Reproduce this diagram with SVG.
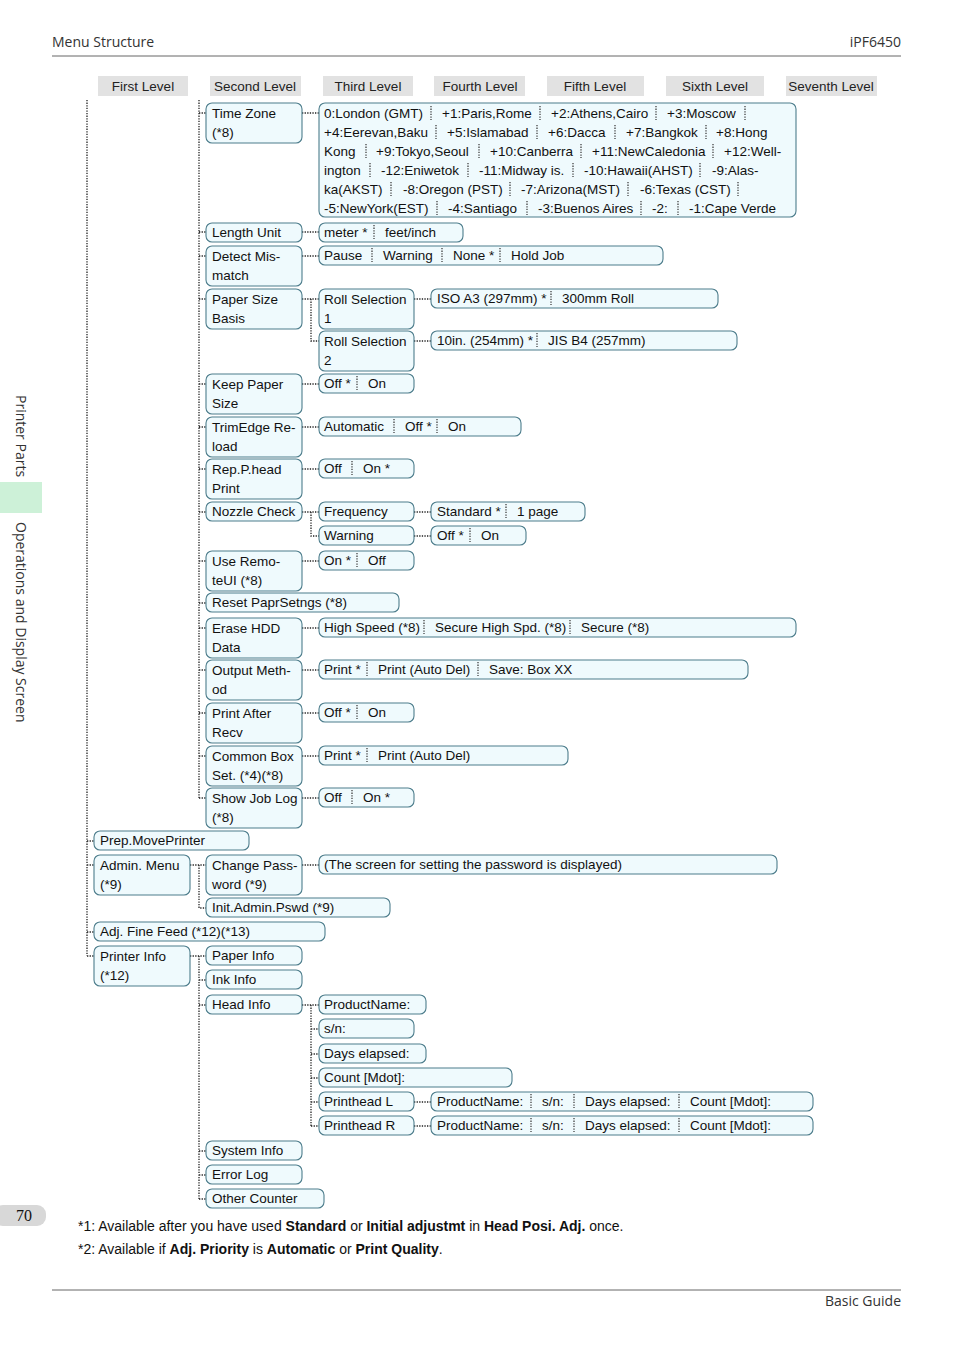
<svg xmlns="http://www.w3.org/2000/svg" width="954" height="1348" viewBox="0 0 954 1348">
<style>
text{font-family:"Liberation Sans",Arial,sans-serif;font-size:13.5px;fill:#111}
.b{fill:#effafd;stroke:#4d7d8c;stroke-width:1.1}
.h{fill:#e2e2e2}
.ht{font-size:13.5px;fill:#222;text-anchor:middle}
.c{stroke:#222;stroke-width:1.3;stroke-dasharray:1.3 1.3;fill:none}
.s{stroke:#333;stroke-width:1.2;stroke-dasharray:1.3 1.3}
.pg{font-family:"Open Sans",sans-serif;font-size:14px;fill:#333}
.fn{font-size:14px}
.bo{font-weight:bold}
</style>
<rect width="954" height="1348" fill="#fff"/>
<text class="pg" x="52" y="47">Menu Structure</text>
<text class="pg" x="901" y="47" text-anchor="end" font-size="15">iPF6450</text>
<line x1="52" y1="56" x2="901" y2="56" stroke="#666" stroke-width="1"/>
<line x1="52" y1="1290" x2="901" y2="1290" stroke="#666" stroke-width="1"/>
<text class="pg" x="901" y="1306" text-anchor="end">Basic Guide</text>
<rect x="-6" y="1205" width="52" height="21" rx="9" fill="#d8d8d8"/>
<text x="24" y="1221" text-anchor="middle" font-family="Liberation Serif" font-size="16" style="font-family:'Liberation Serif',serif;font-size:16px">70</text>
<rect x="0" y="482" width="42" height="31" fill="#cdf1d8"/>
<text class="pg" transform="translate(16,395) rotate(90)">Printer Parts</text>
<text class="pg" transform="translate(16,522) rotate(90)">Operations and Display Screen</text>

<g id="headers">
<rect class="h" x="98" y="76" width="90" height="20"/><text class="ht" x="143" y="91">First Level</text>
<rect class="h" x="210" y="76" width="91" height="20"/><text class="ht" x="255" y="91">Second Level</text>
<rect class="h" x="323" y="76" width="90" height="20"/><text class="ht" x="368" y="91">Third Level</text>
<rect class="h" x="434" y="76" width="91" height="20"/><text class="ht" x="480" y="91">Fourth Level</text>
<rect class="h" x="547" y="76" width="97" height="20"/><text class="ht" x="595" y="91">Fifth Level</text>
<rect class="h" x="666" y="76" width="98" height="20"/><text class="ht" x="715" y="91">Sixth Level</text>
<rect class="h" x="786" y="76" width="91" height="20"/><text class="ht" x="831" y="91">Seventh Level</text>
</g>

<g id="connectors">
<path class="c" d="M87 100V956 M199 100V798 M87 841H94 M87 865H94 M87 932H94 M87 956H94
M199 113H206 M199 232H206 M199 256H206 M199 299H206 M199 384H206 M199 427H206 M199 469H206 M199 512H206 M199 561H206 M199 603H206 M199 628H206 M199 670H206 M199 713H206 M199 756H206 M199 798H206
M302 113H319 M302 232H319 M302 256H319 M302 299H319 M311 299V341H319 M302 384H319 M302 427H319 M302 469H319 M302 512H319 M311 512V536H319 M302 561H319 M302 628H319 M302 670H319 M302 713H319 M302 756H319 M302 798H319
M414 299H431 M414 341H431 M414 512H431 M414 536H431
M190 865H206 M199 865V908H206 M190 956H206 M199 956V1199 M199 980H206 M199 1005H206 M199 1151H206 M199 1175H206 M199 1199H206
M302 865H319 M302 1005H319 M311 1005V1126 M311 1029H319 M311 1054H319 M311 1078H319 M311 1102H319 M311 1126H319 M414 1102H431 M414 1126H431"/>
</g>

<g id="n-timezone"><rect class="b" x="206" y="103" width="96" height="40" rx="6"/><text x="212" y="118">Time Zone</text><text x="212" y="137">(*8)</text></g>
<g id="n-timezone-v"><rect class="b" x="319" y="103" width="477" height="114" rx="6"/>
<text x="324" y="118">0:London (GMT)</text><text x="442" y="118">+1:Paris,Rome</text><text x="551" y="118">+2:Athens,Cairo</text><text x="667" y="118">+3:Moscow</text>
<text x="324" y="137">+4:Eerevan,Baku</text><text x="447" y="137">+5:Islamabad</text><text x="548" y="137">+6:Dacca</text><text x="626" y="137">+7:Bangkok</text><text x="716" y="137">+8:Hong</text>
<text x="324" y="156">Kong</text><text x="376" y="156">+9:Tokyo,Seoul</text><text x="490" y="156">+10:Canberra</text><text x="592" y="156">+11:NewCaledonia</text><text x="724" y="156">+12:Well-</text>
<text x="324" y="175">ington</text><text x="381" y="175">-12:Eniwetok</text><text x="479" y="175">-11:Midway is.</text><text x="584" y="175">-10:Hawaii(AHST)</text><text x="712" y="175">-9:Alas-</text>
<text x="324" y="194">ka(AKST)</text><text x="403" y="194">-8:Oregon (PST)</text><text x="521" y="194">-7:Arizona(MST)</text><text x="640" y="194">-6:Texas (CST)</text>
<text x="324" y="213">-5:NewYork(EST)</text><text x="448" y="213">-4:Santiago</text><text x="538" y="213">-3:Buenos Aires</text><text x="652" y="213">-2:</text><text x="689" y="213">-1:Cape Verde</text>
<path class="s" d="M431 106v14M540 106v14M656 106v14M745 106v14 M436 125v14M537 125v14M615 125v14M706 125v14 M366 144v14M479 144v14M581 144v14M713 144v14 M370 163v14M468 163v14M573 163v14M700 163v14 M391 182v14M510 182v14M628 182v14M738 182v14 M437 201v14M527 201v14M641 201v14M678 201v14"/></g>

<g id="n-length"><rect class="b" x="206" y="223" width="96" height="19" rx="6"/><text x="212" y="237">Length Unit</text></g>
<g id="n-length-v"><rect class="b" x="319" y="223" width="144" height="19" rx="6"/><text x="324" y="237">meter *</text><text x="385" y="237">feet/inch</text><path class="s" d="M374 225v14"/></g>
<g id="n-detect"><rect class="b" x="206" y="246" width="96" height="40" rx="6"/><text x="212" y="261">Detect Mis-</text><text x="212" y="280">match</text></g>
<g id="n-detect-v"><rect class="b" x="319" y="246" width="344" height="19" rx="6"/><text x="324" y="260">Pause</text><text x="383" y="260">Warning</text><text x="453" y="260">None *</text><text x="511" y="260">Hold Job</text><path class="s" d="M372 248v14M442 248v14M500 248v14"/></g>
<g id="n-papersize"><rect class="b" x="206" y="289" width="96" height="40" rx="6"/><text x="212" y="304">Paper Size</text><text x="212" y="323">Basis</text></g>
<g id="n-roll1"><rect class="b" x="319" y="289" width="95" height="40" rx="6"/><text x="324" y="304">Roll Selection</text><text x="324" y="323">1</text></g>
<g id="n-roll2"><rect class="b" x="319" y="331" width="95" height="40" rx="6"/><text x="324" y="346">Roll Selection</text><text x="324" y="365">2</text></g>
<g id="n-roll1-v"><rect class="b" x="431" y="289" width="287" height="19" rx="6"/><text x="437" y="303">ISO A3 (297mm) *</text><text x="562" y="303">300mm Roll</text><path class="s" d="M551 291v14"/></g>
<g id="n-roll2-v"><rect class="b" x="431" y="331" width="306" height="19" rx="6"/><text x="437" y="345">10in. (254mm) *</text><text x="548" y="345">JIS B4 (257mm)</text><path class="s" d="M537 333v14"/></g>
<g id="n-keep"><rect class="b" x="206" y="374" width="96" height="40" rx="6"/><text x="212" y="389">Keep Paper</text><text x="212" y="408">Size</text></g>
<g id="n-keep-v"><rect class="b" x="319" y="374" width="95" height="19" rx="6"/><text x="324" y="388">Off *</text><text x="368" y="388">On</text><path class="s" d="M357 376v14"/></g>
<g id="n-trim"><rect class="b" x="206" y="417" width="96" height="40" rx="6"/><text x="212" y="432">TrimEdge Re-</text><text x="212" y="451">load</text></g>
<g id="n-trim-v"><rect class="b" x="319" y="417" width="202" height="19" rx="6"/><text x="324" y="431">Automatic</text><text x="405" y="431">Off *</text><text x="448" y="431">On</text><path class="s" d="M394 419v14M437 419v14"/></g>
<g id="n-rep"><rect class="b" x="206" y="459" width="96" height="40" rx="6"/><text x="212" y="474">Rep.P.head</text><text x="212" y="493">Print</text></g>
<g id="n-rep-v"><rect class="b" x="319" y="459" width="95" height="19" rx="6"/><text x="324" y="473">Off</text><text x="363" y="473">On *</text><path class="s" d="M352 461v14"/></g>
<g id="n-nozzle"><rect class="b" x="206" y="502" width="96" height="19" rx="6"/><text x="212" y="516">Nozzle Check</text></g>
<g id="n-freq"><rect class="b" x="319" y="502" width="95" height="19" rx="6"/><text x="324" y="516">Frequency</text></g>
<g id="n-warn"><rect class="b" x="319" y="526" width="95" height="19" rx="6"/><text x="324" y="540">Warning</text></g>
<g id="n-freq-v"><rect class="b" x="431" y="502" width="154" height="19" rx="6"/><text x="437" y="516">Standard *</text><text x="517" y="516">1 page</text><path class="s" d="M506 504v14"/></g>
<g id="n-warn-v"><rect class="b" x="431" y="526" width="95" height="19" rx="6"/><text x="437" y="540">Off *</text><text x="481" y="540">On</text><path class="s" d="M470 528v14"/></g>
<g id="n-remote"><rect class="b" x="206" y="551" width="96" height="40" rx="6"/><text x="212" y="566">Use Remo-</text><text x="212" y="585">teUI (*8)</text></g>
<g id="n-remote-v"><rect class="b" x="319" y="551" width="95" height="19" rx="6"/><text x="324" y="565">On *</text><text x="368" y="565">Off</text><path class="s" d="M357 553v14"/></g>
<g id="n-reset"><rect class="b" x="206" y="593" width="193" height="19" rx="6"/><text x="212" y="607">Reset PaprSetngs (*8)</text></g>
<g id="n-erase"><rect class="b" x="206" y="618" width="96" height="40" rx="6"/><text x="212" y="633">Erase HDD</text><text x="212" y="652">Data</text></g>
<g id="n-erase-v"><rect class="b" x="319" y="618" width="477" height="19" rx="6"/><text x="324" y="632">High Speed (*8)</text><text x="435" y="632">Secure High Spd. (*8)</text><text x="581" y="632">Secure (*8)</text><path class="s" d="M424 620v14M570 620v14"/></g>
<g id="n-output"><rect class="b" x="206" y="660" width="96" height="40" rx="6"/><text x="212" y="675">Output Meth-</text><text x="212" y="694">od</text></g>
<g id="n-output-v"><rect class="b" x="319" y="660" width="429" height="19" rx="6"/><text x="324" y="674">Print *</text><text x="378" y="674">Print (Auto Del)</text><text x="489" y="674">Save: Box XX</text><path class="s" d="M367 662v14M478 662v14"/></g>
<g id="n-after"><rect class="b" x="206" y="703" width="96" height="40" rx="6"/><text x="212" y="718">Print After</text><text x="212" y="737">Recv</text></g>
<g id="n-after-v"><rect class="b" x="319" y="703" width="95" height="19" rx="6"/><text x="324" y="717">Off *</text><text x="368" y="717">On</text><path class="s" d="M357 705v14"/></g>
<g id="n-common"><rect class="b" x="206" y="746" width="96" height="40" rx="6"/><text x="212" y="761">Common Box</text><text x="212" y="780">Set. (*4)(*8)</text></g>
<g id="n-common-v"><rect class="b" x="319" y="746" width="249" height="19" rx="6"/><text x="324" y="760">Print *</text><text x="378" y="760">Print (Auto Del)</text><path class="s" d="M367 748v14"/></g>
<g id="n-joblog"><rect class="b" x="206" y="788" width="96" height="40" rx="6"/><text x="212" y="803">Show Job Log</text><text x="212" y="822">(*8)</text></g>
<g id="n-joblog-v"><rect class="b" x="319" y="788" width="95" height="19" rx="6"/><text x="324" y="802">Off</text><text x="363" y="802">On *</text><path class="s" d="M352 790v14"/></g>

<g id="n-prep"><rect class="b" x="94" y="831" width="155" height="19" rx="6"/><text x="100" y="845">Prep.MovePrinter</text></g>
<g id="n-admin"><rect class="b" x="94" y="855" width="96" height="40" rx="6"/><text x="100" y="870">Admin. Menu</text><text x="100" y="889">(*9)</text></g>
<g id="n-changepw"><rect class="b" x="206" y="855" width="96" height="40" rx="6"/><text x="212" y="870">Change Pass-</text><text x="212" y="889">word (*9)</text></g>
<g id="n-changepw-v"><rect class="b" x="319" y="855" width="458" height="19" rx="6"/><text x="324" y="869">(The screen for setting the password is displayed)</text></g>
<g id="n-initpw"><rect class="b" x="206" y="898" width="184" height="19" rx="6"/><text x="212" y="912">Init.Admin.Pswd (*9)</text></g>
<g id="n-adjfine"><rect class="b" x="94" y="922" width="231" height="19" rx="6"/><text x="100" y="936">Adj. Fine Feed (*12)(*13)</text></g>
<g id="n-printerinfo"><rect class="b" x="94" y="946" width="96" height="40" rx="6"/><text x="100" y="961">Printer Info</text><text x="100" y="980">(*12)</text></g>
<g id="n-paperinfo"><rect class="b" x="206" y="946" width="96" height="19" rx="6"/><text x="212" y="960">Paper Info</text></g>
<g id="n-inkinfo"><rect class="b" x="206" y="970" width="96" height="19" rx="6"/><text x="212" y="984">Ink Info</text></g>
<g id="n-headinfo"><rect class="b" x="206" y="995" width="96" height="19" rx="6"/><text x="212" y="1009">Head Info</text></g>
<g id="n-pname"><rect class="b" x="319" y="995" width="107" height="19" rx="6"/><text x="324" y="1009">ProductName:</text></g>
<g id="n-sn"><rect class="b" x="319" y="1019" width="95" height="19" rx="6"/><text x="324" y="1033">s/n:</text></g>
<g id="n-days"><rect class="b" x="319" y="1044" width="107" height="19" rx="6"/><text x="324" y="1058">Days elapsed:</text></g>
<g id="n-count"><rect class="b" x="319" y="1068" width="193" height="19" rx="6"/><text x="324" y="1082">Count [Mdot]:</text></g>
<g id="n-phl"><rect class="b" x="319" y="1092" width="95" height="19" rx="6"/><text x="324" y="1106">Printhead L</text></g>
<g id="n-phr"><rect class="b" x="319" y="1116" width="95" height="19" rx="6"/><text x="324" y="1130">Printhead R</text></g>
<g id="n-phl-v"><rect class="b" x="431" y="1092" width="382" height="19" rx="6"/><text x="437" y="1106">ProductName:</text><text x="542" y="1106">s/n:</text><text x="585" y="1106">Days elapsed:</text><text x="690" y="1106">Count [Mdot]:</text><path class="s" d="M531 1094v14M574 1094v14M679 1094v14"/></g>
<g id="n-phr-v"><rect class="b" x="431" y="1116" width="382" height="19" rx="6"/><text x="437" y="1130">ProductName:</text><text x="542" y="1130">s/n:</text><text x="585" y="1130">Days elapsed:</text><text x="690" y="1130">Count [Mdot]:</text><path class="s" d="M531 1118v14M574 1118v14M679 1118v14"/></g>
<g id="n-sysinfo"><rect class="b" x="206" y="1141" width="96" height="19" rx="6"/><text x="212" y="1155">System Info</text></g>
<g id="n-errlog"><rect class="b" x="206" y="1165" width="96" height="19" rx="6"/><text x="212" y="1179">Error Log</text></g>
<g id="n-other"><rect class="b" x="206" y="1189" width="118" height="19" rx="6"/><text x="212" y="1203">Other Counter</text></g>

<text class="fn" x="78" y="1231">*1: Available after you have used <tspan class="bo">Standard</tspan> or <tspan class="bo">Initial adjustmt</tspan> in <tspan class="bo">Head Posi. Adj.</tspan> once.</text>
<text class="fn" x="78" y="1254">*2: Available if <tspan class="bo">Adj. Priority</tspan> is <tspan class="bo">Automatic</tspan> or <tspan class="bo">Print Quality</tspan>.</text>
</svg>
